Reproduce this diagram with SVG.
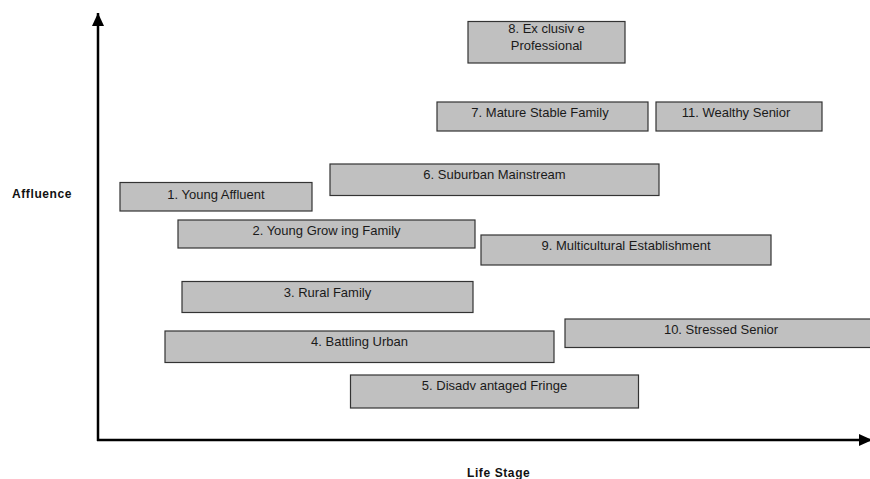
<svg xmlns="http://www.w3.org/2000/svg" width="870" height="479" viewBox="0 0 870 479">
<defs>
<style>
.box{fill:#c0c0c0;stroke:#333;stroke-width:1.2}
.lbl{font-family:"Liberation Sans",Arial,sans-serif;font-size:13px;fill:#1a1a1a;text-anchor:middle}
.axl{font-family:"Liberation Sans",Arial,sans-serif;font-size:12px;font-weight:bold;fill:#111;letter-spacing:0.6px}
.axis{stroke:#000;stroke-width:2.5;fill:none}
</style>
<marker id="ah" markerUnits="userSpaceOnUse" markerWidth="14" markerHeight="14" viewBox="0 0 14 14" refX="13" refY="7" orient="auto">
<path d="M0,1 L13,7 L0,13 Z" fill="#000"/>
</marker>
</defs>
<rect width="870" height="479" fill="#fff"/>
<g id="connectors">
<line class="axis" x1="98" y1="441" x2="98" y2="13" marker-end="url(#ah)"/>
<line class="axis" x1="97" y1="440" x2="872" y2="440" marker-end="url(#ah)"/>
</g>
<g id="axis-labels">
<text class="axl" x="12" y="198">Affluence</text>
<text class="axl" x="467" y="477">Life Stage</text>
</g>
<g id="n1"><rect class="box" x="120" y="182.5" width="192" height="28.5"/><text class="lbl" x="216" y="199">1. Young Affluent</text></g>
<g id="n2"><rect class="box" x="178" y="220" width="297" height="28"/><text class="lbl" x="326.5" y="235">2. Young Grow ing Family</text></g>
<g id="n3"><rect class="box" x="182" y="281.5" width="291" height="31"/><text class="lbl" x="327.5" y="297">3. Rural Family</text></g>
<g id="n4"><rect class="box" x="165" y="331" width="389" height="31.5"/><text class="lbl" x="359.5" y="346">4. Battling Urban</text></g>
<g id="n5"><rect class="box" x="350.5" y="375" width="288" height="33"/><text class="lbl" x="494.5" y="389.5">5. Disadv antaged Fringe</text></g>
<g id="n6"><rect class="box" x="330" y="164" width="329" height="31.5"/><text class="lbl" x="494.5" y="178.5">6. Suburban Mainstream</text></g>
<g id="n7"><rect class="box" x="437" y="102" width="211" height="29"/><text class="lbl" x="540" y="116.5">7. Mature Stable Family</text></g>
<g id="n8"><rect class="box" x="468" y="21.5" width="157" height="41.5"/><text class="lbl" x="546.5" y="33">8. Ex clusiv e</text><text class="lbl" x="546.5" y="49.5">Professional</text></g>
<g id="n9"><rect class="box" x="481" y="235" width="290" height="30"/><text class="lbl" x="626" y="250">9. Multicultural Establishment</text></g>
<g id="n10"><rect class="box" x="565" y="319" width="312" height="28.5"/><text class="lbl" x="721" y="333.5">10. Stressed Senior</text></g>
<g id="n11"><rect class="box" x="656" y="102" width="166" height="29"/><text class="lbl" x="736" y="116.5">11. Wealthy Senior</text></g>
</svg>
